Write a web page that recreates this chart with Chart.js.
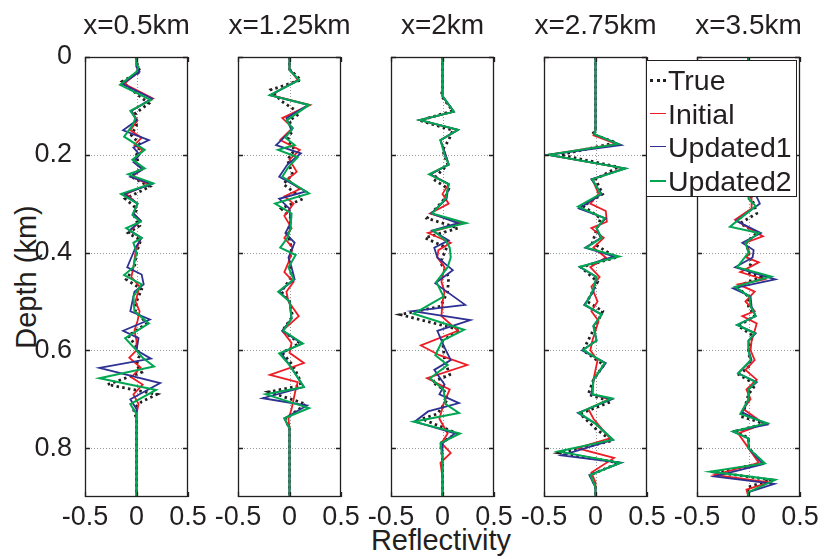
<!DOCTYPE html>
<html>
<head>
<meta charset="utf-8">
<script src="https://cdn.jsdelivr.net/npm/chart.js@4/dist/chart.umd.min.js"></script>
<style>
  body { margin: 0; background: #fff; }
  #wrap { position: relative; width: 826px; height: 559px; overflow: hidden;
          font-family: "Liberation Sans", Arial, sans-serif; color: #231f20; }
  #wrap canvas { position: absolute; top: 0; }
  .txt { position: absolute; white-space: nowrap; line-height: 1; }
  #legend { position: absolute; left: 646px; top: 60px; width: 149px; height: 135px;
            border: 1px solid #231f20; background: #fff; }
  .row { position: absolute; left: 0; height: 34px; line-height: 34px; font-size: 28.5px; }
  .row span.sample { position: absolute; left: 3px; top: 16px; width: 16px; height: 0; }
  .row span.name { position: absolute; left: 21px; top: 0; }
</style>
</head>
<body>
<div id="wrap">
  <div class="txt" style="left:420px;top:-25px;font-size:24px">(c)</div>
  <div class="txt" id="ylab" style="left:26px;top:277px;font-size:29px;transform:translate(-50%,-50%) rotate(-90deg)">Depth (km)</div>
  <div class="txt" style="left:441px;top:526px;font-size:29px;transform:translateX(-50%)">Reflectivity</div>
  <div id="legend"></div>
</div>
<script>
// depth (km) / reflectivity vertex lists, one per trace, [depth, value]
const titles = ["x=0.5km", "x=1.25km", "x=2km", "x=2.75km", "x=3.5km"];
const seriesNames = ["True", "Initial", "Updated1", "Updated2"];
const xTicks = [-0.5, 0, 0.5];
const yTicks = [0, 0.2, 0.4, 0.6, 0.8];

const p1True = [[0,0],[0.02,0.01],[0.03,0.04],[0.05,-0.14],[0.07,-0.03],[0.095,0.12],[0.115,-0.01],[0.14,0],[0.16,-0.05],[0.18,0.04],[0.2,0],[0.23,0.03],[0.245,-0.05],[0.265,0.13],[0.29,-0.11],[0.31,0],[0.33,-0.02],[0.345,0.03],[0.36,-0.08],[0.375,0.04],[0.4,0],[0.43,-0.02],[0.455,-0.1],[0.475,0.05],[0.5,0],[0.52,-0.01],[0.545,0.1],[0.57,-0.08],[0.59,-0.01],[0.61,0.03],[0.63,0],[0.645,0.05],[0.67,-0.28],[0.69,0.2],[0.705,0.05],[0.72,-0.03],[0.74,0],[0.9,0]];
const p1Init = [[0,0],[0.02,0],[0.03,0.02],[0.055,-0.12],[0.085,0.16],[0.11,-0.05],[0.13,0.01],[0.15,-0.06],[0.165,0.05],[0.18,-0.02],[0.19,0.06],[0.21,-0.03],[0.23,0.06],[0.245,-0.05],[0.26,0.12],[0.28,-0.1],[0.3,0.01],[0.32,-0.03],[0.335,0.04],[0.355,-0.06],[0.37,0.04],[0.4,-0.01],[0.43,-0.03],[0.45,-0.05],[0.47,0.03],[0.5,-0.01],[0.52,0.03],[0.54,0.01],[0.56,-0.02],[0.58,0],[0.6,0],[0.615,-0.07],[0.635,0.04],[0.655,-0.05],[0.67,0.06],[0.69,-0.03],[0.71,0.02],[0.73,0],[0.9,0]];
const p1Up1 = [[0,0],[0.02,0],[0.03,0.03],[0.055,-0.14],[0.085,0.15],[0.11,-0.05],[0.13,0],[0.15,-0.13],[0.17,0.12],[0.185,-0.03],[0.2,0.03],[0.215,-0.03],[0.23,0.06],[0.245,-0.06],[0.26,0.15],[0.28,-0.12],[0.3,0.01],[0.32,-0.03],[0.335,0.04],[0.355,-0.07],[0.37,0.05],[0.39,-0.01],[0.43,-0.09],[0.445,0.05],[0.465,0.07],[0.48,-0.02],[0.52,-0.06],[0.537,0.13],[0.56,-0.13],[0.575,0.02],[0.6,0],[0.617,0.14],[0.636,-0.36],[0.667,0.23],[0.7,-0.06],[0.72,0],[0.9,0]];
const p1Up2 = [[0,0],[0.016,0],[0.02,0.02],[0.03,0],[0.057,-0.16],[0.088,0.14],[0.11,-0.06],[0.125,-0.01],[0.14,-0.04],[0.163,-0.12],[0.19,0.08],[0.21,-0.04],[0.228,0.08],[0.24,-0.08],[0.258,0.16],[0.28,-0.15],[0.3,0.01],[0.323,-0.04],[0.337,0.04],[0.35,-0.1],[0.37,0.05],[0.38,-0.03],[0.4,0],[0.43,-0.03],[0.446,-0.12],[0.465,0.05],[0.49,-0.03],[0.52,-0.02],[0.545,0.12],[0.575,-0.11],[0.6,0],[0.615,0.06],[0.633,0.17],[0.657,-0.36],[0.681,0.19],[0.71,-0.06],[0.73,0],[0.9,0]];

const p2True = [[0,0],[0.025,0],[0.047,0.11],[0.067,-0.18],[0.09,-0.08],[0.115,0.1],[0.13,0],[0.15,0.03],[0.17,-0.02],[0.19,0.05],[0.21,-0.02],[0.24,0.03],[0.26,-0.06],[0.29,0.13],[0.31,-0.08],[0.33,0.02],[0.36,-0.02],[0.39,0.02],[0.42,0],[0.45,0.02],[0.48,-0.08],[0.5,0],[0.53,0.03],[0.56,-0.07],[0.585,0.1],[0.605,-0.07],[0.63,0.03],[0.655,0.09],[0.672,0.11],[0.685,-0.2],[0.71,0.16],[0.74,-0.04],[0.76,0],[0.9,0]];
const p2Init = [[0,0],[0.025,0],[0.047,0.08],[0.078,-0.18],[0.098,0.2],[0.125,-0.07],[0.145,0.03],[0.17,-0.09],[0.19,0.1],[0.21,0],[0.235,0.07],[0.25,-0.02],[0.27,0.1],[0.285,-0.05],[0.3,0.04],[0.325,-0.05],[0.35,0.02],[0.37,-0.05],[0.39,0.03],[0.42,-0.01],[0.44,-0.05],[0.46,0.04],[0.48,-0.03],[0.5,-0.01],[0.53,0.09],[0.56,-0.07],[0.585,0.02],[0.605,0],[0.626,0.14],[0.65,-0.19],[0.665,0.08],[0.68,0.06],[0.7,0.04],[0.72,0.02],[0.74,-0.01],[0.76,0],[0.9,0]];
const p2Up1 = [[0,0],[0.025,0],[0.047,0.09],[0.078,-0.19],[0.098,0.18],[0.125,-0.03],[0.15,0.02],[0.18,-0.13],[0.197,0.11],[0.22,-0.02],[0.245,-0.1],[0.275,0.16],[0.29,-0.1],[0.31,0],[0.34,0.01],[0.36,-0.04],[0.38,0.05],[0.41,-0.01],[0.43,0.02],[0.455,0.05],[0.48,-0.1],[0.5,0],[0.535,0.02],[0.56,-0.07],[0.586,0.12],[0.606,-0.08],[0.63,0],[0.675,0.14],[0.698,-0.26],[0.713,0.17],[0.739,-0.05],[0.76,0],[0.9,0]];
const p2Up2 = [[0,0],[0.027,0],[0.047,0.095],[0.078,-0.19],[0.098,0.19],[0.13,-0.03],[0.146,0.03],[0.165,-0.04],[0.18,0.05],[0.19,-0.11],[0.205,0.08],[0.225,-0.01],[0.245,-0.07],[0.279,0.19],[0.3,-0.14],[0.32,0.02],[0.35,0.01],[0.37,-0.02],[0.39,-0.09],[0.405,0.06],[0.43,-0.01],[0.455,0.04],[0.48,-0.11],[0.5,0],[0.535,0.02],[0.56,-0.06],[0.586,0.13],[0.606,-0.1],[0.63,0],[0.675,0.14],[0.69,-0.23],[0.718,0.19],[0.739,-0.05],[0.76,0],[0.9,0]];

const p3True = [[0,0],[0.06,0],[0.08,-0.01],[0.11,0.1],[0.13,-0.22],[0.15,0.1],[0.17,0.06],[0.19,0],[0.22,0.05],[0.25,-0.09],[0.27,0.06],[0.29,0.02],[0.33,-0.15],[0.35,0.15],[0.37,-0.17],[0.39,0.04],[0.42,-0.02],[0.45,0.06],[0.48,0.05],[0.51,-0.02],[0.527,-0.41],[0.558,0.17],[0.58,0],[0.62,0.02],[0.65,0.07],[0.665,-0.1],[0.68,0.01],[0.7,0.05],[0.73,-0.05],[0.74,-0.2],[0.77,0.14],[0.79,-0.02],[0.82,0],[0.9,0]];
const p3Init = [[0,0],[0.08,0],[0.112,0.11],[0.129,-0.22],[0.149,0.15],[0.17,-0.02],[0.2,0.03],[0.22,0.06],[0.24,-0.12],[0.26,0.06],[0.28,0],[0.3,0.06],[0.32,-0.12],[0.34,0.19],[0.36,-0.14],[0.38,0.08],[0.395,-0.04],[0.41,-0.05],[0.43,0.02],[0.46,-0.01],[0.48,0.02],[0.5,0],[0.53,-0.01],[0.56,0.15],[0.59,-0.21],[0.61,-0.03],[0.63,0.24],[0.657,-0.15],[0.68,0.07],[0.71,0.01],[0.74,-0.03],[0.77,0.05],[0.79,-0.01],[0.81,0.08],[0.83,-0.02],[0.86,0],[0.9,0]];
const p3Up1 = [[0,0],[0.08,0],[0.112,0.11],[0.129,-0.22],[0.149,0.15],[0.17,-0.02],[0.2,0.03],[0.22,0.06],[0.24,-0.12],[0.26,0.06],[0.29,0.04],[0.32,-0.11],[0.34,0.15],[0.355,-0.1],[0.375,0.06],[0.39,-0.08],[0.41,-0.05],[0.436,0.1],[0.463,-0.07],[0.507,0.22],[0.52,-0.29],[0.538,0.27],[0.56,-0.05],[0.59,0.01],[0.62,0.08],[0.64,-0.08],[0.67,0.02],[0.69,-0.03],[0.708,0.16],[0.725,-0.14],[0.746,-0.27],[0.77,0.12],[0.79,0],[0.82,0],[0.9,0]];
const p3Up2 = [[0,0],[0.08,0],[0.112,0.11],[0.129,-0.22],[0.149,0.15],[0.17,-0.02],[0.2,0.02],[0.22,0.06],[0.24,-0.13],[0.26,0.06],[0.29,0.03],[0.32,-0.1],[0.34,0.23],[0.355,-0.09],[0.375,0.03],[0.39,0.07],[0.41,0.08],[0.43,0.05],[0.46,-0.06],[0.49,0.01],[0.525,-0.28],[0.558,0.21],[0.58,0],[0.61,-0.07],[0.63,0.05],[0.657,-0.12],[0.68,0.01],[0.71,0.03],[0.728,0.16],[0.746,-0.28],[0.77,0.17],[0.79,-0.02],[0.82,0],[0.9,0]];

const p4True = [[0,0],[0.15,0],[0.158,-0.03],[0.175,0.2],[0.2,-0.34],[0.225,0.22],[0.25,0],[0.28,0.07],[0.305,-0.12],[0.33,0.05],[0.36,0],[0.38,-0.03],[0.41,0.2],[0.43,-0.14],[0.46,0.02],[0.5,-0.08],[0.52,0.07],[0.55,0],[0.6,-0.12],[0.63,0.08],[0.66,-0.02],[0.69,-0.07],[0.705,0.15],[0.73,-0.15],[0.76,0],[0.785,0.16],[0.81,-0.35],[0.83,0.23],[0.855,-0.05],[0.88,0],[0.9,0]];
const p4Init = [[0,0],[0.15,0],[0.16,-0.02],[0.178,0.2],[0.2,-0.46],[0.228,0.28],[0.25,-0.03],[0.28,0.03],[0.3,-0.05],[0.315,0.1],[0.337,0.11],[0.35,-0.04],[0.37,0.08],[0.39,-0.02],[0.41,0.1],[0.43,-0.05],[0.45,0.04],[0.47,-0.04],[0.5,0.02],[0.52,-0.04],[0.54,0.03],[0.56,0],[0.58,-0.03],[0.6,-0.05],[0.62,0.02],[0.66,-0.02],[0.69,-0.03],[0.7,0.13],[0.72,-0.07],[0.74,-0.02],[0.78,0.14],[0.8,-0.18],[0.82,0.18],[0.85,-0.04],[0.87,0],[0.9,0]];
const p4Up1 = [[0,0],[0.15,0],[0.158,-0.01],[0.18,0.25],[0.2,-0.46],[0.228,0.29],[0.25,-0.04],[0.28,0.06],[0.31,-0.16],[0.33,0.1],[0.35,0.01],[0.37,0.05],[0.39,-0.1],[0.408,0.18],[0.43,-0.15],[0.45,0.01],[0.48,-0.02],[0.507,-0.11],[0.527,0.06],[0.55,-0.02],[0.58,0.01],[0.6,-0.13],[0.626,0.1],[0.66,-0.02],[0.69,-0.04],[0.7,0.16],[0.728,-0.17],[0.75,0],[0.783,0.17],[0.815,-0.33],[0.83,0.25],[0.855,-0.06],[0.88,0],[0.9,0]];
const p4Up2 = [[0,0],[0.15,0],[0.158,-0.01],[0.178,0.22],[0.2,-0.46],[0.228,0.29],[0.25,-0.03],[0.28,0.05],[0.306,-0.17],[0.33,0.09],[0.35,0.01],[0.37,0.06],[0.39,-0.09],[0.408,0.23],[0.429,-0.15],[0.45,0.01],[0.48,-0.03],[0.507,-0.1],[0.527,0.06],[0.55,-0.02],[0.58,0.01],[0.599,-0.12],[0.626,0.09],[0.66,-0.02],[0.69,-0.03],[0.698,0.16],[0.728,-0.16],[0.75,0],[0.783,0.17],[0.807,-0.36],[0.83,0.24],[0.855,-0.05],[0.88,0],[0.9,0]];

const p5True = [[0,0],[0.25,0],[0.28,0.01],[0.3,0.05],[0.32,0.08],[0.34,-0.08],[0.36,0.08],[0.38,-0.02],[0.4,0],[0.42,0.03],[0.44,-0.02],[0.45,0.12],[0.47,-0.12],[0.49,0],[0.51,0],[0.53,0.06],[0.55,-0.1],[0.57,0.04],[0.6,0],[0.63,0.02],[0.65,-0.09],[0.67,0.07],[0.69,0],[0.72,-0.04],[0.735,-0.08],[0.75,0.16],[0.765,-0.12],[0.78,0],[0.8,0],[0.83,0.14],[0.85,-0.3],[0.865,0.22],[0.88,-0.01],[0.9,0]];
const p5Init = [[0,0],[0.25,0],[0.29,0.03],[0.31,0.03],[0.333,-0.13],[0.367,0.14],[0.38,-0.03],[0.4,0.01],[0.41,-0.02],[0.42,0.1],[0.44,-0.08],[0.455,0.15],[0.465,-0.1],[0.48,0.06],[0.5,-0.03],[0.52,0.06],[0.53,-0.06],[0.545,0.08],[0.56,0.06],[0.58,0.03],[0.6,0.02],[0.62,0.06],[0.64,-0.03],[0.66,0.08],[0.68,-0.02],[0.7,0.02],[0.72,-0.05],[0.75,0.15],[0.77,-0.1],[0.8,0],[0.83,0.1],[0.855,-0.33],[0.87,0.2],[0.885,-0.02],[0.9,0]];
const p5Up1 = [[0,0],[0.25,0],[0.3,0.11],[0.335,-0.12],[0.36,0.12],[0.38,-0.06],[0.395,0.05],[0.41,0.04],[0.43,-0.13],[0.455,0.26],[0.473,-0.15],[0.49,0.02],[0.51,0.03],[0.53,0.07],[0.548,-0.11],[0.565,0.07],[0.58,0],[0.6,0],[0.62,0.03],[0.647,-0.1],[0.665,0.08],[0.68,0],[0.7,0],[0.727,-0.06],[0.752,0.18],[0.766,-0.15],[0.78,0],[0.8,0],[0.833,0.14],[0.858,-0.33],[0.873,0.25],[0.89,0],[0.9,0]];
const p5Up2 = [[0,0],[0.25,0],[0.29,0],[0.305,0.07],[0.347,-0.18],[0.36,0.1],[0.38,-0.03],[0.4,0],[0.43,-0.11],[0.449,0.22],[0.47,-0.13],[0.49,0.01],[0.51,0.02],[0.53,0.07],[0.548,-0.11],[0.565,0.06],[0.58,0],[0.6,0],[0.62,0.02],[0.647,-0.1],[0.665,0.07],[0.68,0],[0.7,0],[0.73,-0.08],[0.749,0.18],[0.766,-0.15],[0.78,0],[0.8,0],[0.831,0.16],[0.848,-0.37],[0.865,0.26],[0.89,0],[0.9,0]];

const panels = [
  [p1True, p1Init, p1Up1, p1Up2],
  [p2True, p2Init, p2Up1, p2Up2],
  [p3True, p3Init, p3Up1, p3Up2],
  [p4True, p4Init, p4Up1, p4Up2],
  [p5True, p5Init, p5Up1, p5Up2],
];

// line look per trace (same order as seriesNames)
const looks = [
  { color: "#231f20", width: 2.8, dash: [2.5, 3.3] },
  { color: "#ed1c24", width: 1.8, dash: [] },
  { color: "#2e3192", width: 1.8, dash: [] },
  { color: "#00a651", width: 2, dash: [] },
];

const FONT = '"Liberation Sans", Arial, sans-serif';
const INK = "#231f20";
const panelLeft = [85, 238, 391, 544, 697];
const PW = 103, MARGIN = 75, TOP = 57, BOTTOM = 497, H = 559;

// box, inward tick marks and dotted grid, like a matlab axes
const frame = {
  id: "frame",
  beforeDatasetsDraw(chart) {
    const { ctx, chartArea: a, scales: { x, y } } = chart;
    ctx.save();
    ctx.strokeStyle = "#9a9a9a";
    ctx.lineWidth = 1;
    ctx.setLineDash([1, 2]);
    ctx.beginPath();
    yTicks.slice(1).forEach(t => {
      const py = Math.round(y.getPixelForValue(t)) + 0.5;
      ctx.moveTo(a.left, py); ctx.lineTo(a.right, py);
    });
    const px0 = Math.round(x.getPixelForValue(0)) + 0.5;
    ctx.moveTo(px0, a.top); ctx.lineTo(px0, a.bottom);
    ctx.stroke();
    ctx.restore();
  },
  afterDatasetsDraw(chart) {
    const { ctx, chartArea: a, scales: { x, y } } = chart;
    ctx.save();
    ctx.strokeStyle = INK;
    ctx.lineWidth = 1.3;
    ctx.beginPath();
    yTicks.forEach(t => {
      const py = Math.round(y.getPixelForValue(t)) + 0.5;
      ctx.moveTo(a.left, py); ctx.lineTo(a.left + 5, py);
      ctx.moveTo(a.right, py); ctx.lineTo(a.right - 5, py);
    });
    xTicks.forEach(t => {
      const px = Math.round(x.getPixelForValue(t)) + 0.5;
      ctx.moveTo(px, a.bottom); ctx.lineTo(px, a.bottom - 5);
      ctx.moveTo(px, a.top); ctx.lineTo(px, a.top + 5);
    });
    ctx.stroke();
    ctx.strokeRect(Math.round(a.left) + 0.5, Math.round(a.top) + 0.5,
                   Math.round(a.width) - 1, Math.round(a.height) - 1);
    ctx.restore();
  }
};

const wrap = document.getElementById("wrap");

panels.forEach((series, i) => {
  const cv = document.createElement("canvas");
  cv.width = PW + 2 * MARGIN;
  cv.height = H;
  cv.style.left = (panelLeft[i] - MARGIN) + "px";
  wrap.insertBefore(cv, document.getElementById("legend"));

  const t = document.createElement("div");
  t.className = "txt";
  t.textContent = titles[i];
  t.style.cssText = `left:${panelLeft[i] + PW / 2}px;top:11px;font-size:28px;transform:translateX(-50%)`;
  wrap.appendChild(t);

  new Chart(cv, {
    type: "scatter",
    data: {
      datasets: series.map((pts, k) => ({
        label: seriesNames[k],
        data: pts.map(([d, v]) => ({ x: v, y: d })),
        showLine: true,
        pointRadius: 0,
        borderColor: looks[k].color,
        borderWidth: looks[k].width,
        borderDash: looks[k].dash,
        borderCapStyle: "butt",
        borderJoinStyle: "miter",
        tension: 0,
        order: 3 - k,
      })),
    },
    options: {
      responsive: false,
      animation: false,
      devicePixelRatio: 1,
      events: [],
      layout: { padding: { left: 0, right: MARGIN, top: TOP, bottom: H - BOTTOM - 40 } },
      plugins: { legend: { display: false }, tooltip: { enabled: false } },
      scales: {
        x: {
          type: "linear", min: -0.5, max: 0.5,
          grid: { display: false }, border: { display: false },
          afterBuildTicks: s => { s.ticks = xTicks.map(v => ({ value: v })); },
          afterFit: s => { s.height = 40; },
          ticks: {
            color: INK, font: { family: FONT, size: 27 }, padding: -4,
            maxRotation: 0, autoSkip: false,
            callback: v => String(v),
          },
        },
        y: {
          type: "linear", reverse: true, min: 0, max: 0.9,
          grid: { display: false }, border: { display: false },
          afterBuildTicks: s => { s.ticks = yTicks.map(v => ({ value: v })); },
          afterFit: s => { s.width = MARGIN; },
          ticks: {
            display: i === 0,
            color: INK, font: { family: FONT, size: 27 }, padding: 5,
            callback: v => (v === 0 ? "0" : v.toFixed(1)),
          },
        },
      },
    },
    plugins: [frame],
  });
});

// legend box over the last two panels
const legend = document.getElementById("legend");
seriesNames.forEach((name, k) => {
  const row = document.createElement("div");
  row.className = "row";
  row.style.top = (2 + k * 33.5) + "px";
  const s = document.createElement("span");
  s.className = "sample";
  s.style.borderTop = looks[k].dash.length
    ? `3px dotted ${looks[k].color}`
    : `${looks[k].width}px solid ${looks[k].color}`;
  const n = document.createElement("span");
  n.className = "name";
  n.textContent = name;
  row.appendChild(s);
  row.appendChild(n);
  legend.appendChild(row);
});
</script>
</body>
</html>
